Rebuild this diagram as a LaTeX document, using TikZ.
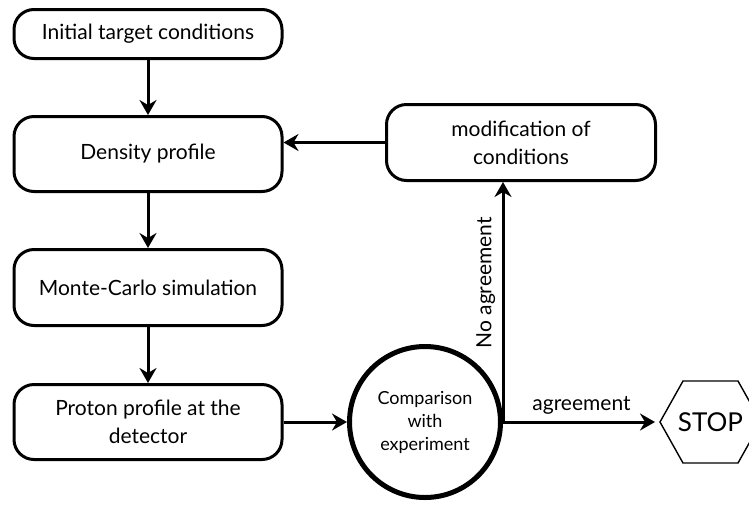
\documentclass[tikz,border=0pt]{standalone}
\usepackage{fontspec}
\setmainfont{Lato}
\usepackage{tikz}
\usetikzlibrary{arrows.meta}
\usetikzlibrary{calc}

\begin{document}
\begin{tikzpicture}[x=1pt,y=-1pt,
	box/.style={draw, line width=3pt, rounded corners=20pt, minimum width=268pt, align=center, font=\fontsize{21}{28}\selectfont},
	flow/.style={line width=3pt, -{Stealth[length=15pt, width=17pt, inset=5pt]}}]
								\def\boxx{148}
								\def\midy{422}
								\def\thin{1.4pt}

								\useasboundingbox (0,0) rectangle (749,507);

								\node[box, minimum height=49pt] (init) at (\boxx,34) {Initial target conditions};
								\node[box, minimum height=75pt] (dens) at (\boxx,154) {Density profile};
								\node[box, minimum height=76pt] (mc) at (\boxx,287.5) {Monte-Carlo simulation};
								\node[box, minimum height=75pt] (proton) at (\boxx,\midy) {Proton profile at the\\detector};
								\node[box, minimum width=269pt, minimum height=76pt] (modif) at (521,142.5) {modification of\\conditions};

								\node[draw, circle, line width=5pt, minimum size=151pt, align=center, font=\fontsize{18}{23}\selectfont] (comp) at (425,\midy) {Comparison\\with\\experiment};

								\node[font=\fontsize{26}{30}\selectfont] (stop) at (710.5,\midy) {STOP};
								\draw[line width=\thin] (stop) ++(-50.5,0) -- ++(23,-41) -- ++(55,0) -- ++(23,41) -- ++(-23,41) -- ++(-55,0) -- cycle;
								\coordinate (stopL) at ($(stop)+(-50.5,0)$);

								\draw[flow] (init) -- (dens);
								\draw[flow] (dens) -- (mc);
								\draw[flow] (mc) -- (proton);
								\draw[flow] (proton) -- (comp);
								\draw[flow] (modif.west) -- (modif.west -| dens.east);
								\draw[flow, shorten >=5pt] (comp.east) -- (stopL) node[midway, above=3pt, font=\fontsize{21}{24}\selectfont] {agreement};
								\draw[flow] (comp.east) -- (comp.east |- modif.south) node[pos=0.58, above=3pt, sloped, font=\fontsize{21}{24}\selectfont] {No agreement};
							\end{tikzpicture}
\end{document}
